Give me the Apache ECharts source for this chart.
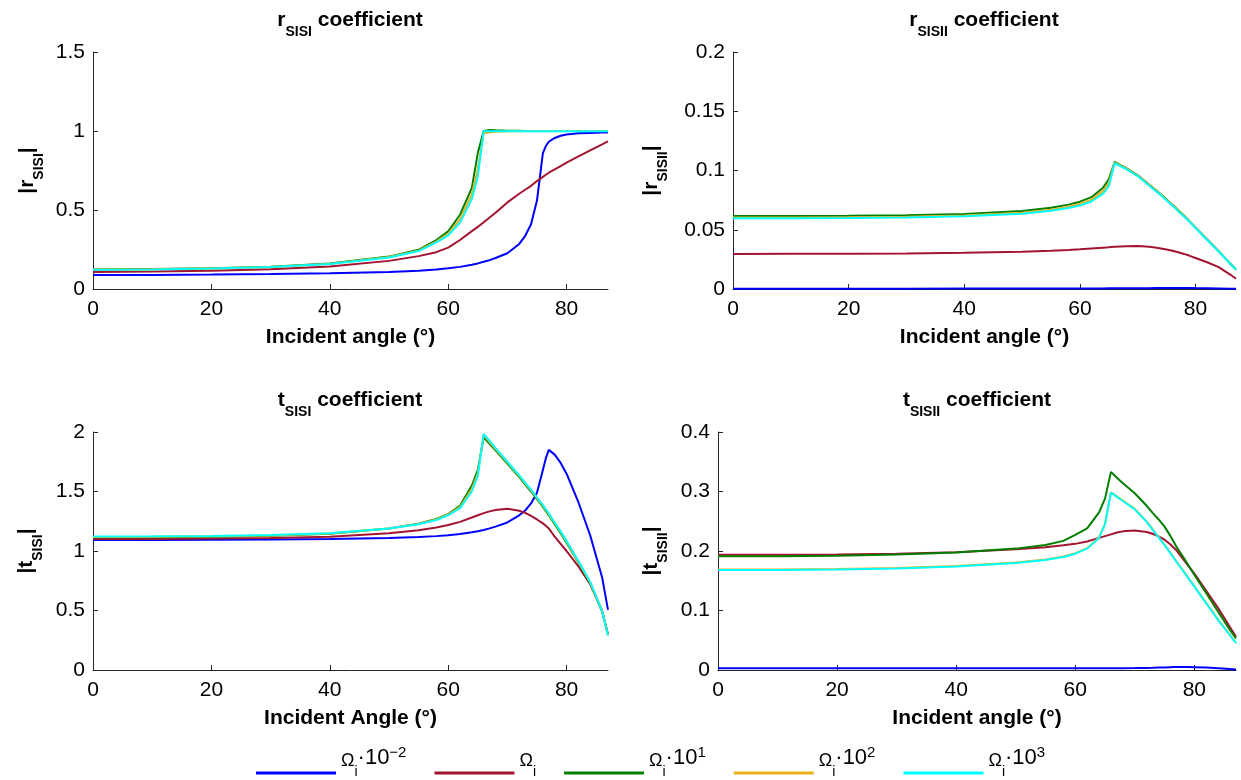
<!DOCTYPE html>
<html><head><meta charset="utf-8">
<script src="https://cdn.jsdelivr.net/npm/echarts@6/dist/echarts.min.js"></script>
<style>html,body{margin:0;padding:0;background:#fff}#c{width:1241px;height:780px}</style>
</head><body><div id="c"></div>
<script>
// ---- data ----
const angles = [0,10,20,30,40,50,55,58,60,62,64,65,66,67,68,70,72,73,74,75,76,76.5,77,78,79,80,82,84,86,87];
const xTicks = [0,20,40,60,80];
const seriesNames = ['Ωi·10^-2','Ωi','Ωi·10^1','Ωi·10^2','Ωi·10^3'];
const legendLabels = ['{o|Ω}{s|i}{n|·10}{p|−2}','{o|Ω}{s|i}','{o|Ω}{s|i}{n|·10}{p|1}','{o|Ω}{s|i}{n|·10}{p|2}','{o|Ω}{s|i}{n|·10}{p|3}'];
const colors = ['#0000ff','#a2142f','#007f00','#edb120','#00ffff'];

// r_SISI
const rSISI_blue  = [0.088,0.089,0.091,0.095,0.100,0.108,0.116,0.124,0.131,0.140,0.154,0.162,0.172,0.183,0.196,0.226,0.285,0.335,0.41,0.56,0.86,0.905,0.932,0.956,0.97,0.978,0.985,0.988,0.99,0.99];
const rSISI_red   = [0.108,0.110,0.115,0.125,0.143,0.178,0.208,0.233,0.262,0.31,0.366,0.393,0.423,0.453,0.483,0.548,0.603,0.628,0.653,0.683,0.71,0.723,0.736,0.757,0.778,0.80,0.84,0.878,0.915,0.934];
const rSISI_green = [0.124,0.126,0.131,0.141,0.161,0.205,0.248,0.31,0.365,0.47,0.64,0.86,1.0,1.006,1.004,1.002,1.001,1.0,1.0,1.0,1.0,1.0,1.0,1.0,1.0,1.0,1.0,1.0,1.0,1.0];
const rSISI_orange= [0.123,0.125,0.130,0.140,0.159,0.202,0.243,0.30,0.35,0.44,0.60,0.76,0.985,0.99,0.995,0.998,0.999,1.0,1.0,1.0,1.0,1.0,1.0,1.0,1.0,1.0,1.0,1.0,1.0,1.0];
const rSISI_cyan  = [0.122,0.124,0.129,0.139,0.158,0.200,0.240,0.295,0.34,0.42,0.57,0.71,0.998,0.999,0.999,0.999,0.999,0.999,0.999,0.999,0.999,0.999,0.999,0.999,0.999,0.999,0.999,0.999,0.999,0.999];

// r_SISII
const rSISII_blue  = [0.0003,0.0003,0.0003,0.0003,0.0004,0.0004,0.0004,0.0005,0.0005,0.0005,0.0005,0.0006,0.0006,0.0006,0.0006,0.0007,0.0007,0.0008,0.0008,0.0008,0.0009,0.0009,0.0009,0.0009,0.0009,0.0008,0.0007,0.0005,0.0003,0.0002];
const rSISII_red   = [0.0296,0.0297,0.0298,0.0300,0.0305,0.0315,0.0323,0.0330,0.0335,0.0342,0.0349,0.0352,0.0356,0.0358,0.0360,0.0362,0.0356,0.0350,0.0342,0.0333,0.0322,0.0316,0.0310,0.0296,0.0280,0.0262,0.0226,0.0185,0.0122,0.0087];
const rSISII_green = [0.0615,0.0616,0.0618,0.0622,0.0632,0.0658,0.0685,0.0712,0.0737,0.0775,0.0855,0.0925,0.1072,0.1045,0.1020,0.0960,0.0880,0.0840,0.0800,0.0755,0.0710,0.0690,0.0665,0.0620,0.0570,0.0520,0.0420,0.0320,0.0215,0.0165];
const rSISII_orange= [0.0603,0.0604,0.0606,0.0610,0.0620,0.0644,0.0669,0.0694,0.0718,0.0754,0.0828,0.0895,0.1066,0.1041,0.1016,0.0955,0.0876,0.0836,0.0796,0.0751,0.0706,0.0686,0.0661,0.0616,0.0568,0.0518,0.0418,0.0318,0.0214,0.0163];
const rSISII_cyan  = [0.0597,0.0598,0.0600,0.0604,0.0613,0.0636,0.0660,0.0683,0.0705,0.0738,0.0805,0.0868,0.1062,0.1037,0.1012,0.0952,0.0872,0.0832,0.0792,0.0747,0.0702,0.0682,0.0657,0.0612,0.0565,0.0515,0.0415,0.0316,0.0213,0.0162];

// t_SISI
const tSISI_blue  = [1.093,1.093,1.095,1.097,1.101,1.109,1.117,1.125,1.132,1.142,1.157,1.166,1.177,1.19,1.205,1.24,1.30,1.34,1.40,1.49,1.68,1.78,1.85,1.81,1.74,1.65,1.41,1.13,0.78,0.505];
const tSISI_red   = [1.100,1.101,1.104,1.110,1.12,1.15,1.175,1.198,1.218,1.245,1.282,1.30,1.318,1.333,1.345,1.355,1.338,1.32,1.295,1.265,1.232,1.212,1.19,1.12,1.06,1.00,0.87,0.72,0.50,0.295];
const tSISI_green = [1.115,1.116,1.12,1.128,1.145,1.19,1.23,1.27,1.31,1.38,1.55,1.68,1.955,1.90,1.845,1.735,1.62,1.56,1.50,1.435,1.37,1.335,1.30,1.225,1.15,1.07,0.905,0.73,0.49,0.30];
const tSISI_orange= [1.118,1.119,1.123,1.131,1.147,1.19,1.227,1.265,1.305,1.37,1.52,1.65,1.975,1.915,1.857,1.745,1.63,1.57,1.51,1.445,1.38,1.345,1.31,1.235,1.16,1.08,0.91,0.735,0.493,0.295];
const tSISI_cyan  = [1.122,1.123,1.127,1.134,1.15,1.19,1.225,1.26,1.30,1.36,1.50,1.63,1.985,1.925,1.865,1.75,1.635,1.575,1.515,1.45,1.385,1.35,1.315,1.24,1.165,1.085,0.915,0.74,0.495,0.29];

// t_SISII
const tSISII_blue  = [0.003,0.003,0.003,0.003,0.003,0.003,0.003,0.003,0.003,0.003,0.003,0.003,0.003,0.003,0.003,0.0032,0.0035,0.0037,0.004,0.0043,0.0047,0.0049,0.005,0.0051,0.005,0.0048,0.004,0.003,0.0015,0.0008];
const tSISII_red   = [0.1935,0.1937,0.194,0.1955,0.198,0.203,0.2065,0.2095,0.212,0.216,0.222,0.225,0.228,0.231,0.233,0.2345,0.232,0.229,0.2245,0.219,0.211,0.206,0.201,0.188,0.175,0.162,0.133,0.104,0.072,0.056];
const tSISII_green = [0.191,0.1912,0.1922,0.194,0.1975,0.204,0.21,0.217,0.227,0.238,0.265,0.288,0.333,0.323,0.314,0.297,0.276,0.264,0.253,0.241,0.225,0.216,0.207,0.192,0.176,0.160,0.129,0.098,0.067,0.053];
const tSISII_orange= [0.1688,0.169,0.1698,0.1713,0.1748,0.1808,0.1858,0.1908,0.1963,0.2048,0.2228,0.2458,0.2988,0.2918,0.2848,0.2708,0.2498,0.2368,0.2238,0.2108,0.1968,0.1898,0.1828,0.1688,0.1548,0.1408,0.1128,0.0848,0.0588,0.0458];
const tSISII_cyan  = [0.168,0.1682,0.169,0.1705,0.174,0.18,0.185,0.19,0.1955,0.204,0.222,0.245,0.298,0.291,0.284,0.27,0.249,0.236,0.223,0.21,0.196,0.189,0.182,0.168,0.154,0.14,0.112,0.084,0.058,0.045];

// ---- panels ----
const FONT = 'Liberation Sans, Arial, Helvetica, sans-serif';
const panels = [
  {grid:{left:93,top:52,width:515,height:237}, ymax:1.5, yint:0.5, title:'{m|r}{s|SISI}{m| coefficient}', yname:'{m||r}{s|SISI}{m||}', xname:'Incident angle (°)', ygap:47, tTop:18, cx:350, data:[rSISI_blue,rSISI_red,rSISI_green,rSISI_orange,rSISI_cyan]},
  {grid:{left:733,top:52,width:503,height:237}, ymax:0.2, yint:0.05, title:'{m|r}{s|SISII}{m| coefficient}', yname:'{m||r}{s|SISII}{m||}', xname:'Incident angle (°)', ygap:63, tTop:18, cx:984, data:[rSISII_blue,rSISII_red,rSISII_green,rSISII_orange,rSISII_cyan]},
  {grid:{left:93,top:432,width:515,height:238}, ymax:2, yint:0.5, title:'{m|t}{s|SISI}{m| coefficient}', yname:'{m||t}{s|SISI}{m||}', xname:'Incident Angle (°)', ygap:48, tTop:398, cx:350, data:[tSISI_blue,tSISI_red,tSISI_green,tSISI_orange,tSISI_cyan]},
  {grid:{left:718,top:432,width:518,height:238}, ymax:0.4, yint:0.1, title:'{m|t}{s|SISII}{m| coefficient}', yname:'{m||t}{s|SISII}{m||}', xname:'Incident angle (°)', ygap:48, tTop:398, cx:977, data:[tSISII_blue,tSISII_red,tSISII_green,tSISII_orange,tSISII_cyan]}
];

const subRich = {
  m:{fontFamily:FONT,fontSize:21,fontWeight:'bold',color:'#000',lineHeight:21,verticalAlign:'bottom',padding:[0,0,8,0]},
  s:{fontFamily:FONT,fontSize:14,fontWeight:'bold',color:'#000',lineHeight:14,verticalAlign:'bottom',padding:[0,0,0,0]}
};
const axisColor = '#262626';

const option = {
  backgroundColor:'#fff',
  animation:false,
  title: panels.map(p=>({text:p.title, left:p.cx, top:p.tTop, textAlign:'center', textVerticalAlign:'top', padding:0, textStyle:{rich:subRich}})),
  grid: panels.map(p=>p.grid),
  xAxis: panels.map((p,i)=>({
    type:'value', gridIndex:i, min:0, max:87, interval:20,
    name:p.xname, nameLocation:'middle', nameGap:38,
    nameTextStyle:{fontFamily:FONT,fontSize:21,fontWeight:'bold',color:'#000'},
    axisLine:{onZero:false,lineStyle:{color:axisColor,width:1}},
    axisTick:{inside:true,length:5,customValues:xTicks,lineStyle:{color:axisColor}},
    axisLabel:{customValues:xTicks,fontFamily:FONT,fontSize:21,color:'#000',margin:10},
    splitLine:{show:false}
  })),
  yAxis: panels.map((p,i)=>({
    type:'value', gridIndex:i, min:0, max:p.ymax, interval:p.yint,
    name:p.yname, nameLocation:'middle', nameGap:p.ygap,
    nameTextStyle:{rich:subRich},
    axisLine:{show:true,onZero:false,lineStyle:{color:axisColor,width:1}},
    axisTick:{show:true,inside:true,length:5,lineStyle:{color:axisColor}},
    axisLabel:{fontFamily:FONT,fontSize:21,color:'#000',margin:8},
    splitLine:{show:false}
  })),
  legend:{
    left:251, top:740, itemGap:28, itemWidth:80, itemHeight:3,
    data:seriesNames.map((n,i)=>({name:n, icon:'rect', itemStyle:{color:colors[i], opacity:1, borderWidth:0}})),
    formatter:(name)=>legendLabels[seriesNames.indexOf(name)],
    textStyle:{rich:{
      o:{fontFamily:FONT,fontSize:18,color:'#000',lineHeight:56,verticalAlign:'bottom',padding:[0,0,31,0]},
      s:{fontFamily:FONT,fontSize:14,color:'#000',lineHeight:56,verticalAlign:'bottom',padding:[0,0,22,0]},
      n:{fontFamily:FONT,fontSize:22,color:'#000',lineHeight:56,verticalAlign:'bottom',padding:[0,0,32,0]},
      p:{fontFamily:FONT,fontSize:15,color:'#000',lineHeight:56,verticalAlign:'bottom',padding:[0,0,41,0]}
    }}
  },
  series: []
};
panels.forEach((p,gi)=>{
  p.data.forEach((arr,si)=>{
    option.series.push({
      type:'line', name:seriesNames[si], xAxisIndex:gi, yAxisIndex:gi,
      data: angles.map((a,k)=>[a,arr[k]]),
      showSymbol:false, smooth:false,
      color:colors[si],
      itemStyle:{color:colors[si]},
      lineStyle:{color:colors[si],width:2},
      z: 2+si
    });
  });
});
const chart = echarts.init(document.getElementById('c'), null, {renderer:'canvas'});
chart.setOption(option);
</script></body></html>
